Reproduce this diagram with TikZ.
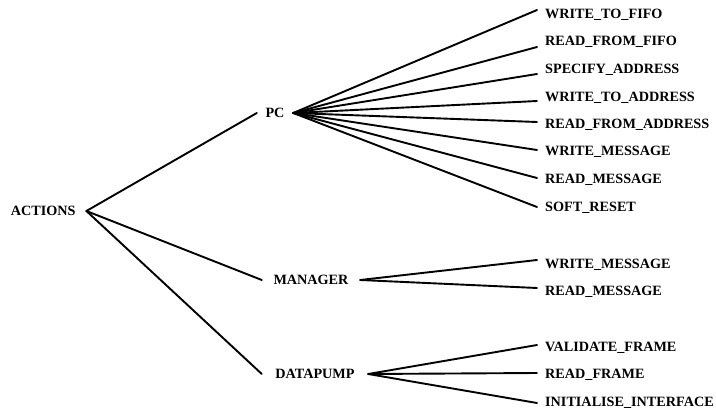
\documentclass[tikz,border=0pt]{standalone}
\usepackage{fontspec}
\setmainfont{Liberation Serif}
\begin{document}
\begin{tikzpicture}[x=1pt,y=-1pt,
  lbl/.style={font=\fontsize{14.2}{16}\selectfont\bfseries, inner sep=0pt},
  mid/.style={lbl, minimum height=14pt},
  leaf/.style={lbl, anchor=west, inner xsep=8pt},
  edge/.style={line width=1.9pt, line cap=round}]
\useasboundingbox (0,0) rectangle (716,415);
% root and middle nodes
\node[mid, minimum width=86pt, anchor=west] (actions) at (0,211) {ACTIONS};
\node[mid, minimum width=36pt] (pc) at (275,113) {PC};
\node[mid, minimum width=98pt] (manager) at (311,280) {MANAGER};
\node[mid, minimum width=106pt] (datapump) at (315,374) {DATAPUMP};
% PC leaves
\node[leaf] (p1) at (537,15) {WRITE\_TO\_FIFO};
\node[leaf] (p2) at (537,42) {READ\_FROM\_FIFO};
\node[leaf] (p3) at (537,70) {SPECIFY\_ADDRESS};
\node[leaf] (p4) at (537,98) {WRITE\_TO\_ADDRESS};
\node[leaf] (p5) at (537,125) {READ\_FROM\_ADDRESS};
\node[leaf] (p6) at (537,152) {WRITE\_MESSAGE};
\node[leaf] (p7) at (537,180) {READ\_MESSAGE};
\node[leaf] (p8) at (537,208) {SOFT\_RESET};
% MANAGER leaves
\node[leaf] (m1) at (537,265) {WRITE\_MESSAGE};
\node[leaf] (m2) at (537,292) {READ\_MESSAGE};
% DATAPUMP leaves
\node[leaf] (d1) at (537,348) {VALIDATE\_FRAME};
\node[leaf] (d2) at (537,375) {READ\_FRAME};
\node[leaf] (d3) at (537,403) {INITIALISE\_INTERFACE};
% connectors
\draw[edge] (actions.east) -- (pc.west);
\draw[edge] (actions.east) -- (manager.west);
\draw[edge] (actions.east) -- (datapump.west);
\draw[edge] (pc.east) -- ([yshift=5pt]p1.west);
\draw[edge] (pc.east) -- ([yshift=-5pt]p2.west);
\draw[edge] (pc.east) -- ([yshift=-4pt]p3.west);
\draw[edge] (pc.east) -- ([yshift=-3pt]p4.west);
\draw[edge] (pc.east) -- ([yshift=3pt]p5.west);
\draw[edge] (pc.east) -- ([yshift=2pt]p6.west);
\draw[edge] (pc.east) -- ([yshift=2pt]p7.west);
\draw[edge] (pc.east) -- ([yshift=1pt]p8.west);
\draw[edge] (manager.east) -- ([yshift=5pt]m1.west);
\draw[edge] (manager.east) -- ([yshift=4pt]m2.west);
\draw[edge] (datapump.east) -- ([yshift=3pt]d1.west);
\draw[edge] (datapump.east) -- ([yshift=2pt]d2.west);
\draw[edge] (datapump.east) -- (d3.west);
\end{tikzpicture}
\end{document}
